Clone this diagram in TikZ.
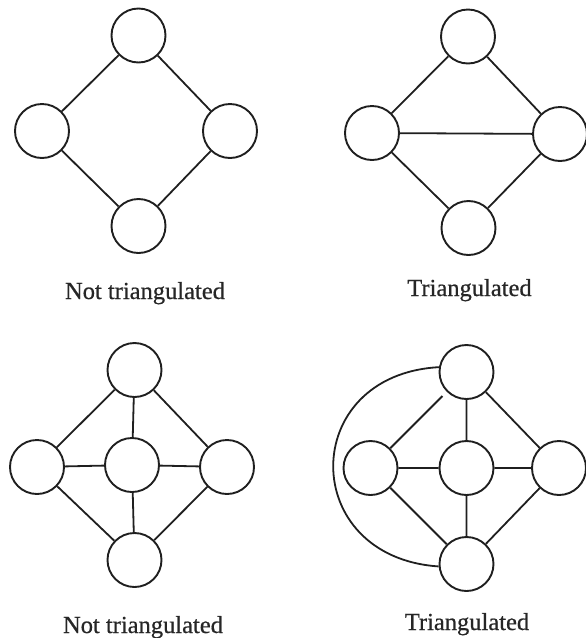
\documentclass[tikz,border=0pt]{standalone}
\usepackage{fontspec}
\setmainfont{Liberation Serif}
\newfontfamily\lblfont[FakeBold=0.6]{Liberation Serif}
\begin{document}
\begin{tikzpicture}[x=1pt,y=-1pt,
  vtx/.style={circle,draw=black!88,line width=1.9pt,minimum size=54pt,inner sep=0pt},
  edge/.style={draw=black!88,line width=1.8pt},
  lbl/.style={anchor=base,text=black!85,font=\lblfont\fontsize{24.5}{29}\selectfont}]
\useasboundingbox (0,0) rectangle (586,638);
% top-left
\node[vtx] (a1) at (138.5,35.5) {};
\node[vtx] (a2) at (42,131) {};
\node[vtx] (a3) at (230,131) {};
\node[vtx] (a4) at (138.5,226) {};
\draw[edge] (a1)--(a2) (a1)--(a3) (a2)--(a4) (a3)--(a4);
\node[lbl] (la) at (145,299) {Not triangulated};
% top-right
\node[vtx] (b1) at (468,36.5) {};
\node[vtx] (b2) at (372,133) {};
\node[vtx] (b3) at (560,134) {};
\node[vtx] (b4) at (468.5,228) {};
\draw[edge] (b1)--(b2) (b1)--(b3) (b2)--(b4) (b3)--(b4) (b2)--(b3);
\node[lbl] (lb) at (469.5,296) {Triangulated};
% bottom-left
\node[vtx] (c1) at (134.5,370) {};
\node[vtx] (c2) at (37,467) {};
\node[vtx] (c0) at (132,465) {};
\node[vtx] (c3) at (227,467) {};
\node[vtx] (c4) at (134.5,560) {};
\draw[edge] (c1)--(c2) (c1)--(c3) (c2)--(c4) (c3)--(c4)
  (c0)--(c1) (c0)--(c2) (c0)--(c3) (c0)--(c4);
\node[lbl] (lc) at (143,633) {Not triangulated};
% bottom-right
\node[vtx] (d1) at (466.5,372) {};
\node[vtx] (d2) at (370.5,468) {};
\node[vtx] (d0) at (466.5,468) {};
\node[vtx] (d3) at (559,468) {};
\node[vtx] (d4) at (466.5,564) {};
\draw[edge,shorten >=6pt] (d2)--(d1);
\draw[edge] (d1)--(d3) (d2)--(d4) (d3)--(d4)
  (d0)--(d1) (d0)--(d2) (d0)--(d3) (d0)--(d4);
\draw[edge] (d1.170) .. controls (298,375) and (298,557) .. (d4.185);
\node[lbl] (ld) at (467,630) {Triangulated};
\end{tikzpicture}
\end{document}
